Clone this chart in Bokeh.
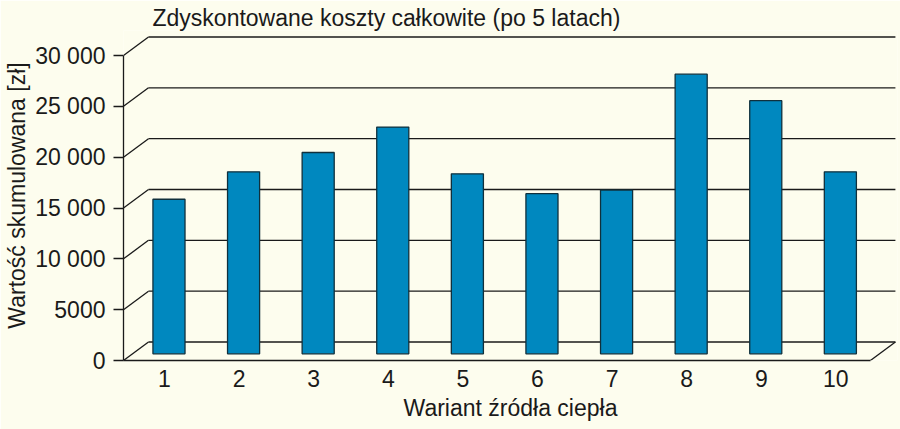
from bokeh.plotting import figure
from bokeh.models import Range1d, FixedTicker
from bokeh.embed import file_html
from bokeh.resources import INLINE

# ---- data ----
variants = [1, 2, 3, 4, 5, 6, 7, 8, 9, 10]
variant_labels = ["1", "2", "3", "4", "5", "6", "7", "8", "9", "10"]
costs = [15200, 17900, 19800, 22300, 17700, 15750, 16100, 27500, 24900, 17900]
y_ticks = [0, 5000, 10000, 15000, 20000, 25000, 30000]
y_tick_labels = ["0", "5000", "10 000", "15 000", "20 000", "25 000", "30 000"]
title_text = "Zdyskontowane koszty całkowite (po 5 latach)"
y_label = "Wartość skumulowana [zł]"
x_label = "Wariant źródła ciepła"

# ---- style / geometry ----
BG = "#FDFDEE"
BAR = "#0088BF"
INK = "#1a1a1a"
FONT = "Liberation Sans"
X_START, X_END = 0.4504, 10.826
X_FRONT_END = 10.463
DX = 0.335      # depth offset in x units
DY = 1820       # depth offset in value units
BAR_DX = 0.06
BAR_BASE = 660
Y_END = 32460

p = figure(width=900, height=429, output_backend="svg", toolbar_location=None,
           x_range=Range1d(X_START, X_END), y_range=Range1d(0, Y_END),
           min_border_left=123, min_border_right=3, min_border_top=30,
           min_border_bottom=69)
p.background_fill_color = BG
p.border_fill_color = BG
p.outline_line_color = None
p.xgrid.visible = False
p.ygrid.visible = False

p.title.text = title_text
p.title.text_font = FONT
p.title.text_font_size = "23px"
p.title.text_font_style = "normal"
p.title.text_color = INK
p.title.align = "left"
p.title.offset = 29
p.title.standoff = 0

# back grid lines and perspective diagonals
p.segment(x0=[X_START] * len(y_ticks), y0=y_ticks,
          x1=[X_START + DX] * len(y_ticks), y1=[t + DY for t in y_ticks],
          line_color=INK, line_width=1.3)
p.segment(x0=[X_START + DX] * len(y_ticks), y0=[t + DY for t in y_ticks],
          x1=[X_FRONT_END + DX] * len(y_ticks), y1=[t + DY for t in y_ticks],
          line_color=INK, line_width=1.3)
p.segment(x0=[X_FRONT_END], y0=[0], x1=[X_FRONT_END + DX], y1=[DY],
          line_color=INK, line_width=1.3)

# bars
p.vbar(x=[v + BAR_DX for v in variants], width=0.43, bottom=BAR_BASE,
       top=[c + BAR_BASE for c in costs], fill_color=BAR,
       line_color="#10303c", line_width=1.3)

# axes
ya = p.yaxis[0]
ya.bounds = (0, 30000)
ya.ticker = FixedTicker(ticks=y_ticks)
ya.major_label_overrides = {t: l for t, l in zip(y_ticks, y_tick_labels)}
ya.minor_tick_line_color = None
ya.major_tick_in = 0
ya.major_tick_out = 10
ya.major_label_standoff = 8
ya.axis_line_color = INK
ya.axis_line_width = 1.3
ya.major_tick_line_color = INK
ya.major_tick_line_width = 1.3
ya.major_label_text_font = FONT
ya.major_label_text_font_size = "23px"
ya.major_label_text_color = INK
ya.axis_label = y_label
ya.axis_label_text_font = FONT
ya.axis_label_text_font_size = "23px"
ya.axis_label_text_font_style = "normal"
ya.axis_label_text_color = INK
ya.axis_label_standoff = 2

xa = p.xaxis[0]
xa.bounds = (X_START, X_FRONT_END)
xa.ticker = FixedTicker(ticks=variants)
xa.major_label_overrides = {v: l for v, l in zip(variants, variant_labels)}
xa.minor_tick_line_color = None
xa.major_tick_line_color = None
xa.major_tick_in = 0
xa.major_tick_out = 0
xa.major_label_standoff = 9
xa.axis_line_color = INK
xa.axis_line_width = 1.3
xa.major_label_text_font = FONT
xa.major_label_text_font_size = "23px"
xa.major_label_text_color = INK
xa.axis_label = x_label
xa.axis_label_text_font = FONT
xa.axis_label_text_font_size = "23px"
xa.axis_label_text_font_style = "normal"
xa.axis_label_text_color = INK
xa.axis_label_standoff = 5

open("out.html", "w").write(file_html(p, INLINE))
